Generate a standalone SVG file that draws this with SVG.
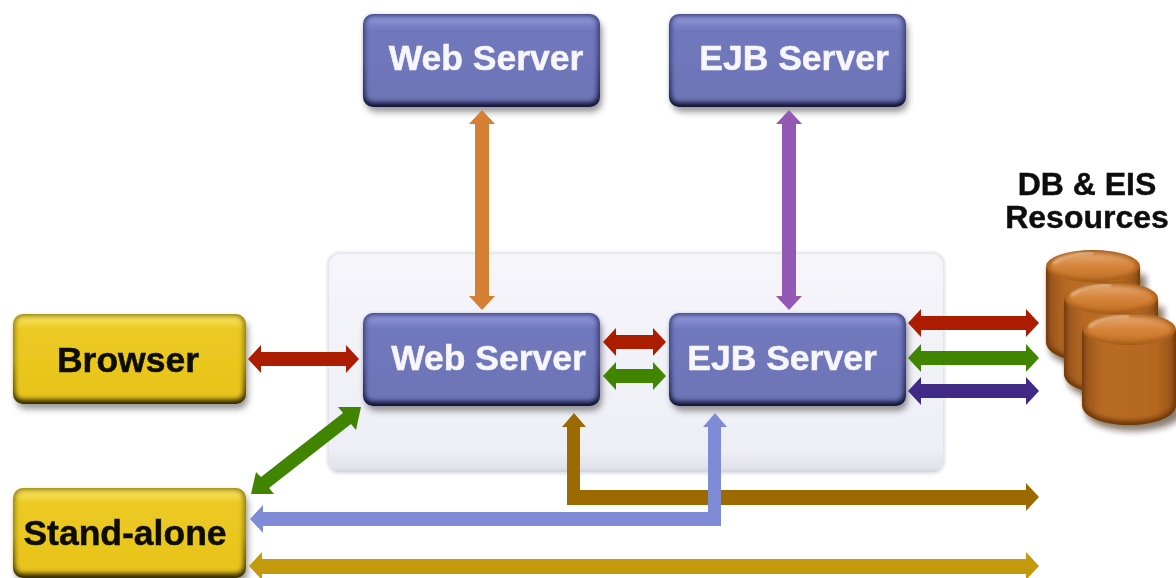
<svg xmlns="http://www.w3.org/2000/svg" width="1176" height="578" viewBox="0 0 1176 578">
<style>
text{font-family:"Liberation Sans",Arial,sans-serif;font-weight:700;text-anchor:middle}
.l{font-size:35.5px;fill:#f6f6fc;stroke:#f6f6fc;stroke-width:.5px}
.d{font-size:35.5px;fill:#0c0c06;stroke:#0c0c06;stroke-width:.5px}
.r{font-size:32px;fill:#0a0a0a;stroke:#0a0a0a;stroke-width:.4px}
.red{fill:#ab1f05}.grn{fill:#418405}.pur{fill:#3f2a85}.org{fill:#d57f35}.vio{fill:#9358b3}.blu{fill:#808bd8}.brn{fill:#9b6a06}.gld{fill:#c49a0a}
</style>
<defs>
<filter id="sh" x="-15%" y="-25%" width="130%" height="150%"><feGaussianBlur stdDeviation="3"/></filter>
<filter id="sf" x="-2%" y="-2%" width="104%" height="104%"><feGaussianBlur stdDeviation="0.5"/></filter>
<filter id="bv" x="-5%" y="-5%" width="110%" height="110%"><feGaussianBlur stdDeviation="2.4"/></filter>
<filter id="pb" x="-2%" y="-2%" width="104%" height="104%"><feGaussianBlur stdDeviation="1.5"/></filter>
<linearGradient id="pv" x1="0" y1="0" x2="0" y2="1"><stop offset="0" stop-color="#f5f5fa"/><stop offset=".9" stop-color="#eeeef6"/><stop offset=".98" stop-color="#e2e2ea"/><stop offset="1" stop-color="#d4d4dc"/></linearGradient>
<linearGradient id="bo" x1="0" y1="0" x2="0" y2="1"><stop offset="0" stop-color="#3b3e78"/><stop offset=".5" stop-color="#3a3e78"/><stop offset="1" stop-color="#0e1030"/></linearGradient>
<linearGradient id="yo" x1="0" y1="0" x2="0" y2="1"><stop offset="0" stop-color="#8f7a10"/><stop offset=".5" stop-color="#8f7a10"/><stop offset="1" stop-color="#2e2500"/></linearGradient>
<linearGradient id="bvg" x1="0" y1="0" x2="0" y2="1"><stop offset="0" stop-color="#959ce0"/><stop offset=".15" stop-color="#7078bd"/><stop offset="1" stop-color="#6d75b6"/></linearGradient>
<linearGradient id="yvg" x1="0" y1="0" x2="0" y2="1"><stop offset="0" stop-color="#fbe666"/><stop offset=".15" stop-color="#ebc922"/><stop offset="1" stop-color="#e8c41c"/></linearGradient>
<linearGradient id="cyb" x1="0" y1="0" x2="1" y2="0"><stop offset="0" stop-color="#95521a"/><stop offset=".2" stop-color="#b86b24"/><stop offset=".8" stop-color="#b5681f"/><stop offset="1" stop-color="#95521a"/></linearGradient>
<linearGradient id="cyt" x1="0" y1="0" x2="0" y2="1"><stop offset="0" stop-color="#e6ad78"/><stop offset=".45" stop-color="#d8863c"/><stop offset="1" stop-color="#c47428"/></linearGradient>
<symbol id="bb" width="237" height="100" viewBox="0 0 237 100" overflow="visible">
<rect x="3" y="6" width="236" height="92" rx="10" fill="#444" opacity=".55" filter="url(#sh)"/>
<rect width="237" height="93" rx="10" fill="url(#bo)"/>
<rect x="2" y="2" width="232.500" height="86.500" rx="8" fill="url(#bvg)" filter="url(#bv)"/>
</symbol>
<symbol id="yb" width="233" height="100" viewBox="0 0 233 100" overflow="visible">
<rect x="3" y="6" width="232" height="89" rx="10" fill="#444" opacity=".55" filter="url(#sh)"/>
<rect width="233" height="90" rx="10" fill="url(#yo)"/>
<rect x="2" y="2" width="228.500" height="83.500" rx="8" fill="url(#yvg)" filter="url(#bv)"/>
</symbol>
<symbol id="cy" width="94" height="115" viewBox="0 0 94 115" overflow="visible">
<path d="M4 25V100C4 110 25 118 51 118S100 110 100 100V25Z" fill="#2a1500" opacity=".55" filter="url(#sh)"/>
<path d="M0 17V92C0 104 21 112 47 112S94 104 94 92V17Z" fill="#6a3505"/>
<path d="M2 17V90C2 101 22 108 47 108S92 101 92 90V17Z" fill="url(#cyb)" filter="url(#bv)"/>
<ellipse cx="47" cy="16" rx="47" ry="16" fill="#a55a18"/>
<ellipse cx="47" cy="16" rx="44" ry="13" fill="url(#cyt)" filter="url(#bv)"/>
<path d="M7 14C14 7 30 3 47 3" fill="none" stroke="#f3cba4" stroke-width="2" filter="url(#pb)"/>
</symbol>
</defs>
<rect width="1176" height="578" fill="#fff"/>
<g filter="url(#sf)">
<g id="app-container"><rect x="327" y="252" width="618" height="222" rx="13" fill="#dfdfe8" filter="url(#pb)"/><rect x="329" y="254" width="614" height="218" rx="11" fill="url(#pv)"/></g>
<g id="node-top-web"><use href="#bb" x="363" y="14"/><text class="l" x="486" y="70">Web Server</text></g>
<g id="node-top-ejb"><use href="#bb" x="669" y="14"/><text class="l" x="794" y="70">EJB Server</text></g>
<g id="node-mid-web"><use href="#bb" x="363" y="313"/><text class="l" x="488.500" y="370">Web Server</text></g>
<g id="node-mid-ejb"><use href="#bb" x="669" y="313"/><text class="l" x="782" y="370">EJB Server</text></g>
<g id="node-browser"><use href="#yb" x="13" y="314"/><text class="d" x="128" y="372">Browser</text></g>
<g id="node-standalone"><use href="#yb" x="13" y="488"/><text class="d" x="125" y="545">Stand-alone</text></g>
<g id="node-db">
<text class="r" x="1087" y="195">DB &amp; EIS</text>
<text class="r" x="1087" y="228">Resources</text>
<use href="#cy" x="1046" y="250"/>
<use href="#cy" x="1064" y="282"/>
<use href="#cy" x="1082" y="313"/>
</g>
<g id="connectors">
<polygon class="red" points="248,359 261,345 261,352 346,352 346,345 359,359 346,373 346,366 261,366 261,373"/>
<polygon class="org" points="482,110 495,124 489,124 489,296 495,296 482,310 469,296 475,296 475,124 469,124"/>
<polygon class="vio" points="789,110 802,124 796,124 796,296 802,296 789,310 776,296 782,296 782,124 776,124"/>
<polygon class="red" points="603,342 616,328 616,335 653,335 653,328 666,342 653,356 653,349 616,349 616,356"/>
<polygon class="grn" points="603,376 616,362 616,369 653,369 653,362 666,376 653,390 653,383 616,383 616,390"/>
<polygon class="red" points="908,323 921,309 921,316 1026,316 1026,309 1039,323 1026,337 1026,330 921,330 921,337"/>
<polygon class="grn" points="908,358 921,344 921,351 1026,351 1026,344 1039,358 1026,372 1026,365 921,365 921,372"/>
<polygon class="pur" points="908,391 921,377 921,384 1026,384 1026,377 1039,391 1026,405 1026,398 921,398 921,405"/>
<polygon class="grn" points="361,407 356,430 351,424 269,488 274,494 251,494 256,472 261,477 343,413 338,407"/>
<polygon class="brn" points="574,413 586,427 580,427 580,490 1026,490 1026,483 1039,497 1026,511 1026,505 567,505 567,427 562,427"/>
<polygon class="blu" points="715,413 727,427 721,427 721,526 263,526 263,533 250,519 263,505 263,512 708,512 708,427 703,427"/>
<polygon class="gld" points="249,566 262,552 262,559 1026,559 1026,552 1039,566 1026,580 1026,574 262,574 262,580"/>
</g>
</g>
</svg>
